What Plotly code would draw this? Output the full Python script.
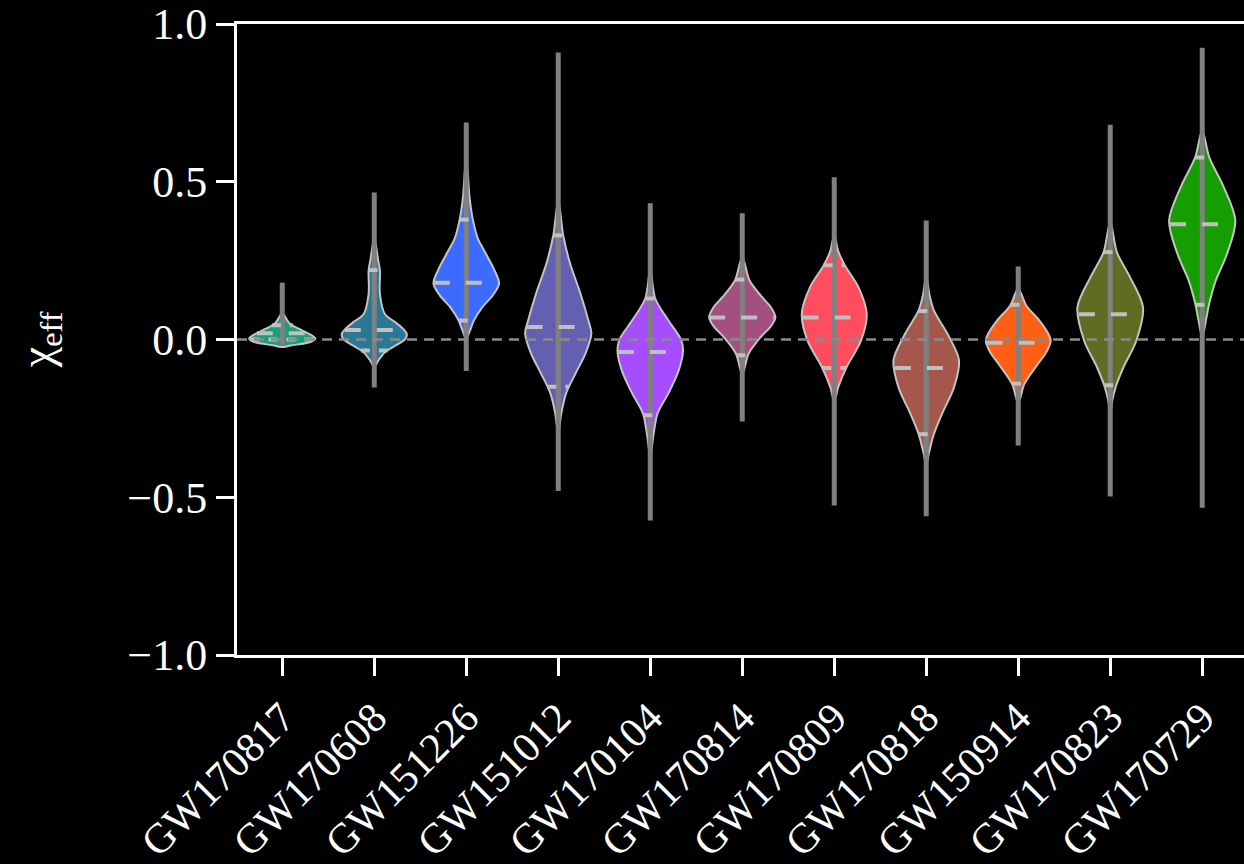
import numpy as np
import plotly.graph_objects as go

# ---------------- data ----------------
events = ["GW170817", "GW170608", "GW151226", "GW151012", "GW170104", "GW170814",
          "GW170809", "GW170818", "GW150914", "GW170823", "GW170729"]
colors = ["#17a07a", "#287896", "#3b6cff", "#6360b2", "#a64dff", "#a34f80",
          "#ff4d60", "#a4574a", "#ff5f14", "#626b22", "#149e00"]

medians = [0.02, 0.03, 0.18, 0.04, -0.04, 0.07, 0.07, -0.09, -0.01, 0.08, 0.365]
lower90 = [0.00, -0.035, 0.06, -0.15, -0.24, -0.05, -0.09, -0.30, -0.14, -0.145, 0.11]
upper90 = [0.045, 0.22, 0.38, 0.33, 0.13, 0.19, 0.235, 0.09, 0.11, 0.277, 0.577]
sample_min = [-0.02, -0.152, -0.10, -0.48, -0.574, -0.26, -0.526, -0.56, -0.336, -0.498, -0.533]
sample_max = [0.18, 0.466, 0.688, 0.91, 0.432, 0.40, 0.514, 0.377, 0.231, 0.681, 0.925]

# density profiles: chi_eff levels (top -> bottom) and relative half-widths
profile_y = [
    [0.085, 0.071, 0.05, 0.035, 0.019, 0.003, -0.008, -0.019, -0.024],
    [0.32, 0.25, 0.22, 0.145, 0.081, 0.055, 0.039, 0.018, 0.002, -0.019, -0.04, -0.067, -0.088],
    [0.58, 0.45, 0.38, 0.32, 0.282, 0.22, 0.177, 0.14, 0.102, 0.06, 0.028, 0.003],
    [0.44, 0.33, 0.24, 0.146, 0.06, 0.02, -0.045, -0.108, -0.17, -0.235, -0.30],
    [0.22, 0.13, 0.06, 0.0, -0.035, -0.098, -0.17, -0.235, -0.30, -0.37],
    [0.26, 0.187, 0.134, 0.10, 0.07, 0.04, 0.007, -0.045, -0.11],
    [0.33, 0.28, 0.235, 0.166, 0.082, -0.003, -0.088, -0.151, -0.195],
    [0.20, 0.14, 0.092, 0.018, -0.066, -0.151, -0.235, -0.30, -0.36, -0.40],
    [0.16, 0.108, 0.06, 0.02, -0.003, -0.04, -0.077, -0.14, -0.20],
    [0.372, 0.277, 0.197, 0.102, -0.003, -0.088, -0.146, -0.20, -0.257],
    [0.662, 0.578, 0.483, 0.377, 0.272, 0.187, 0.113, 0.06, 0.007],
]
profile_w = [
    [0, 0.09, 0.23, 0.48, 0.79, 1.0, 0.85, 0.25, 0],
    [0, 0.12, 0.17, 0.17, 0.32, 0.63, 0.82, 0.98, 0.94, 0.64, 0.33, 0.12, 0],
    [0, 0.10, 0.20, 0.35, 0.54, 0.85, 0.99, 0.80, 0.48, 0.23, 0.11, 0],
    [0, 0.15, 0.36, 0.67, 0.91, 1.0, 0.82, 0.52, 0.24, 0.09, 0],
    [0, 0.15, 0.55, 0.93, 0.99, 0.86, 0.55, 0.22, 0.10, 0],
    [0, 0.22, 0.60, 0.88, 1.0, 0.85, 0.55, 0.19, 0],
    [0, 0.12, 0.32, 0.73, 0.98, 0.81, 0.37, 0.12, 0],
    [0, 0.10, 0.23, 0.64, 0.99, 0.84, 0.48, 0.23, 0.08, 0],
    [0, 0.24, 0.64, 0.90, 0.98, 0.85, 0.60, 0.19, 0],
    [0, 0.20, 0.60, 0.99, 0.79, 0.40, 0.18, 0.05, 0],
    [0, 0.21, 0.65, 1.0, 0.75, 0.41, 0.21, 0.11, 0],
]

ytick_vals = [-1.0, -0.5, 0.0, 0.5, 1.0]
ytick_text = ["\u22121.0", "\u22120.5", "0.0", "0.5", "1.0"]

# ---------------- style ----------------
MAXW = 0.36
FONT = "Liberation Serif"
OUTLINE = "#c4c4c4"
CENTER = "#808080"
MARK = "#c0c0c0"

fig = go.Figure()

# violin bodies
for i, name in enumerate(events):
    ys = np.array(profile_y[i], dtype=float)
    ws = np.array(profile_w[i], dtype=float) * MAXW
    xr = i + ws
    xl = i - ws
    x = np.concatenate([xr, xl[::-1][1:]])
    y = np.concatenate([ys, ys[::-1][1:]])
    fig.add_trace(go.Scatter(
        x=x, y=y, mode="lines", fill="toself", fillcolor=colors[i],
        line=dict(color=OUTLINE, width=2, shape="spline", smoothing=0.9),
        hoverinfo="skip", showlegend=False))

# full-range lines
for i, name in enumerate(events):
    fig.add_trace(go.Scatter(
        x=[i, i], y=[sample_min[i], sample_max[i]], mode="lines",
        line=dict(color=CENTER, width=5), hoverinfo="skip", showlegend=False))

# median / 90% lines
for i, name in enumerate(events):
    ys = np.array(profile_y[i], dtype=float)[::-1]
    ws = np.array(profile_w[i], dtype=float)[::-1] * MAXW
    for lvl, dash in [(lower90[i], "9px,9px"), (upper90[i], "9px,9px"), (medians[i], "16px,16px")]:
        hw = float(np.interp(lvl, ys, ws))
        fig.add_trace(go.Scatter(
            x=[i - hw, i + hw], y=[lvl, lvl], mode="lines",
            line=dict(color=MARK, width=4, dash=dash),
            hoverinfo="skip", showlegend=False))

# zero line
fig.add_shape(type="line", xref="paper", x0=0, x1=1, yref="y", y0=0, y1=0,
              line=dict(color="#8a8a8a", width=2.5, dash="10px,7px"), layer="above")

fig.add_annotation(text="\u03c7<sub>eff</sub>", xref="paper", yref="paper",
                   x=-0.196, y=0.5, xanchor="center", yanchor="middle",
                   textangle=-90, showarrow=False,
                   font=dict(family=FONT, size=46, color="white"))

fig.update_layout(
    width=1244, height=864,
    margin=dict(l=237, r=0, t=24, b=209, autoexpand=False),
    paper_bgcolor="black", plot_bgcolor="black",
    font=dict(family=FONT, size=42, color="white"),
    showlegend=False,
    xaxis=dict(range=[-0.492, 10.454], tickmode="array", tickvals=list(range(len(events))),
               ticktext=events, tickangle=-45, showgrid=False, zeroline=False,
               showline=True, linecolor="white", linewidth=3, mirror=True,
               ticks="outside", ticklen=18, tickwidth=3, tickcolor="white",
               automargin=False,
               tickfont=dict(family=FONT, size=42, color="white")),
    yaxis=dict(range=[-1, 1], tickmode="array", tickvals=ytick_vals, ticktext=ytick_text,
               showgrid=False, zeroline=False, showline=True, linecolor="white", linewidth=3,
               ticks="outside", ticklen=18, tickwidth=3, tickcolor="white",
               automargin=False,
               tickfont=dict(family=FONT, size=44, color="white")),
)

fig.write_html("out.html", config={"displayModeBar": False},
               post_script="document.body.style.margin='0';document.body.style.background='black';")
